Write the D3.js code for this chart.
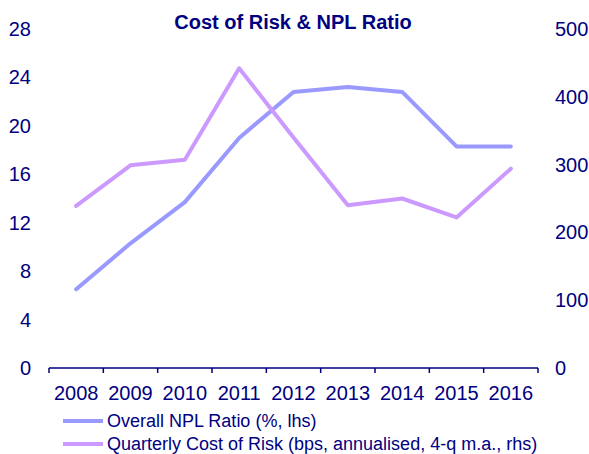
<!DOCTYPE html>
<html>
<head>
<meta charset="utf-8">
<script src="https://cdn.jsdelivr.net/npm/d3@7"></script>
<style>
  html, body { margin: 0; padding: 0; background: #fff; }
  svg { display: block; font-family: "Liberation Sans", Arial, sans-serif; }
</style>
</head>
<body>
<svg id="chart" width="589" height="454"></svg>
<script>
// Years on the category axis
const years = ["2008", "2009", "2010", "2011", "2012", "2013", "2014", "2015", "2016"];
// Overall NPL ratio, % (left axis)
const nplRatio = [6.5, 10.3, 13.7, 19.0, 22.8, 23.2, 22.8, 18.3, 18.3];
// Quarterly cost of risk, bps annualised, 4-q moving average (right axis)
const costOfRisk = [239, 299, 307, 442, 340, 240, 250, 222, 294];
// Axis tick values
const leftTicks = [0, 4, 8, 12, 16, 20, 24, 28];
const rightTicks = [0, 100, 200, 300, 400, 500];

const navy = "#000080";
const nplColor = "#9999FF";
const corColor = "#CC99FF";

const svg = d3.select("#chart");
const plot = { left: 49, right: 538, top: 29, bottom: 368 };

const x = d3.scaleBand().domain(years).range([plot.left, plot.right]);
const yL = d3.scaleLinear().domain([0, 28]).range([plot.bottom, plot.top]);
const yR = d3.scaleLinear().domain([0, 500]).range([plot.bottom, plot.top]);

// Title
svg.append("text")
  .attr("x", 293).attr("y", 29)
  .attr("text-anchor", "middle")
  .attr("font-size", 20).attr("font-weight", "bold")
  .attr("fill", navy)
  .text("Cost of Risk & NPL Ratio");

// Left value labels (no axis line)
svg.append("g").selectAll("text").data(leftTicks).join("text")
  .attr("x", 31).attr("y", d => yL(d))
  .attr("dy", "0.35em")
  .attr("text-anchor", "end")
  .attr("font-size", 20).attr("fill", navy)
  .text(d => d);

// Right value labels
svg.append("g").selectAll("text").data(rightTicks).join("text")
  .attr("x", 555).attr("y", d => yR(d))
  .attr("dy", "0.35em")
  .attr("text-anchor", "start")
  .attr("font-size", 20).attr("fill", navy)
  .text(d => d);

// Category axis: baseline with ticks at category boundaries
const xAxis = svg.append("g");
xAxis.append("line")
  .attr("x1", plot.left).attr("x2", plot.right)
  .attr("y1", plot.bottom).attr("y2", plot.bottom)
  .attr("stroke", navy).attr("stroke-width", 1.5);
const bounds = years.map(d => x(d)).concat([x(years[years.length - 1]) + x.bandwidth()]);
xAxis.selectAll("line.tick").data(bounds).join("line")
  .attr("class", "tick")
  .attr("x1", d => d).attr("x2", d => d)
  .attr("y1", plot.bottom).attr("y2", plot.bottom + 5)
  .attr("stroke", navy).attr("stroke-width", 1.5);
xAxis.selectAll("text").data(years).join("text")
  .attr("x", d => x(d) + x.bandwidth() / 2)
  .attr("y", 400)
  .attr("text-anchor", "middle")
  .attr("font-size", 20).attr("fill", navy)
  .text(d => d);

// Series lines
const cx = d => x(d) + x.bandwidth() / 2;
const nplLine = d3.line().x((d, i) => cx(years[i])).y(d => yL(d));
const corLine = d3.line().x((d, i) => cx(years[i])).y(d => yR(d));

svg.append("path").datum(nplRatio)
  .attr("d", nplLine)
  .attr("fill", "none").attr("stroke", nplColor)
  .attr("stroke-width", 4).attr("stroke-linejoin", "round").attr("stroke-linecap", "round");

svg.append("path").datum(costOfRisk)
  .attr("d", corLine)
  .attr("fill", "none").attr("stroke", corColor)
  .attr("stroke-width", 4).attr("stroke-linejoin", "round").attr("stroke-linecap", "round");

// Legend
const legendItems = [
  { label: "Overall NPL Ratio (%, lhs)", color: nplColor, y: 421 },
  { label: "Quarterly Cost of Risk (bps, annualised, 4-q m.a., rhs)", color: corColor, y: 444 }
];
const legend = svg.append("g").selectAll("g").data(legendItems).join("g");
legend.append("line")
  .attr("x1", 63).attr("x2", 103)
  .attr("y1", d => d.y).attr("y2", d => d.y)
  .attr("stroke", d => d.color).attr("stroke-width", 4);
legend.append("text")
  .attr("x", 107).attr("y", d => d.y)
  .attr("dy", "0.35em")
  .attr("font-size", 18).attr("fill", navy)
  .text(d => d.label);
</script>
</body>
</html>
